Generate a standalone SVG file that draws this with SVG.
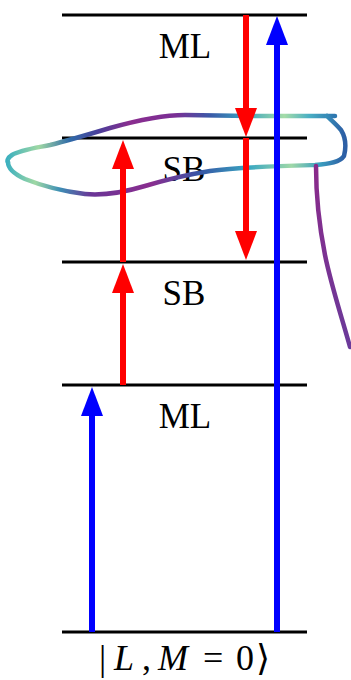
<svg xmlns="http://www.w3.org/2000/svg" width="351" height="680" viewBox="0 0 351 680">
  <style>
    .lvl { stroke: #000; stroke-width: 3; fill: none; }
    .lbl { font-family: "Liberation Serif", "DejaVu Serif", serif; font-size: 35px; fill: #000; text-anchor: middle; }
    .ket { font-family: "Liberation Serif", "DejaVu Serif", serif; font-size: 36px; fill: #000; }
    .it { font-style: italic; }
    .red { stroke: #ff0000; stroke-width: 6; fill: none; }
    .blue { stroke: #0000ff; stroke-width: 6; fill: none; }
    .sq { fill: none; stroke-width: 4.5; stroke-linecap: round; stroke-linejoin: round; }
  </style>
  <defs>
    <marker id="hr" viewBox="0 0 29 22" refX="0" refY="11" markerWidth="29" markerHeight="22" markerUnits="userSpaceOnUse" orient="auto">
      <path d="M0,0 L29,11 L0,22 z" fill="#ff0000"/>
    </marker>
    <marker id="hb" viewBox="0 0 29 22" refX="0" refY="11" markerWidth="29" markerHeight="22" markerUnits="userSpaceOnUse" orient="auto">
      <path d="M0,0 L29,11 L0,22 z" fill="#0000ff"/>
    </marker>
    <linearGradient id="gUp" gradientUnits="userSpaceOnUse" x1="0" y1="0" x2="351" y2="0">
      <stop offset="0.02" stop-color="#3cb0bf"/>
      <stop offset="0.11" stop-color="#9fd8a4"/>
      <stop offset="0.2" stop-color="#2f6aa8"/>
      <stop offset="0.28" stop-color="#4a3f9a"/>
      <stop offset="0.37" stop-color="#8a2d8f"/>
      <stop offset="0.5" stop-color="#7a2f95"/>
      <stop offset="0.6" stop-color="#3a5aa8"/>
      <stop offset="0.7" stop-color="#3aa5c0"/>
      <stop offset="0.81" stop-color="#a5dca8"/>
      <stop offset="0.88" stop-color="#4ab0c4"/>
      <stop offset="0.95" stop-color="#2e78b0"/>
    </linearGradient>
    <linearGradient id="gLo" gradientUnits="userSpaceOnUse" x1="0" y1="0" x2="351" y2="0">
      <stop offset="0.02" stop-color="#3cb0bf"/>
      <stop offset="0.1" stop-color="#9fd8a4"/>
      <stop offset="0.17" stop-color="#3d8fb5"/>
      <stop offset="0.26" stop-color="#6a3596"/>
      <stop offset="0.43" stop-color="#8a2d8f"/>
      <stop offset="0.57" stop-color="#3555a5"/>
      <stop offset="0.71" stop-color="#3aa8c2"/>
      <stop offset="0.83" stop-color="#9fd8a8"/>
      <stop offset="0.91" stop-color="#3aa0c0"/>
      <stop offset="0.98" stop-color="#2d5fa5"/>
    </linearGradient>
    <linearGradient id="gTail" gradientUnits="userSpaceOnUse" x1="0" y1="165" x2="0" y2="350">
      <stop offset="0" stop-color="#8b2a8a"/>
      <stop offset="1" stop-color="#6a3a9a"/>
    </linearGradient>
  </defs>

  <g id="level-ML-top"><line class="lvl" x1="62" y1="15" x2="307" y2="15"/><text class="lbl" x="185" y="58">ML</text></g>
  <g id="level-SB-upper"><line class="lvl" x1="62" y1="138" x2="307" y2="138"/><text class="lbl" x="184" y="181">SB</text></g>
  <g id="level-SB-lower"><line class="lvl" x1="62" y1="262" x2="307" y2="262"/><text class="lbl" x="184" y="305">SB</text></g>
  <g id="level-ML-lower"><line class="lvl" x1="62" y1="385" x2="307" y2="385"/><text class="lbl" x="185" y="428">ML</text></g>
  <g id="level-ground"><line class="lvl" x1="62" y1="632" x2="307" y2="632"/>
    <text class="ket" y="670"><tspan x="99">|</tspan><tspan class="it" x="114">L</tspan><tspan x="142">,</tspan><tspan class="it" x="158">M</tspan><tspan x="203">=</tspan><tspan x="236">0</tspan><tspan x="256">⟩</tspan></text>
  </g>

  <g id="annotation">
    <path class="sq" stroke="url(#gUp)" d="M335,116 L250,116 L185,115 C160,115 135,121 110,128 C90,134 70,140 50,145 C35,148 20,150 12,155 C7,158 7,162 8,162"/>
    <path class="sq" stroke="url(#gLo)" d="M8,162 C8,168 14,174 25,179 C40,185 60,191 85,194 C105,196 125,192 145,186 C165,180 185,175 210,171 C240,167 280,166 315,165 C330,164 340,162 344,156 C346,148 346,138 341,130 C336,124 330,119 327,116"/>
    <path class="sq" stroke="url(#gTail)" d="M316,166 C316,195 319,225 325,255 C331,285 342,318 350,347"/>
  </g>

  <g id="connectors">
    <line class="red" x1="123" y1="385" x2="123" y2="293" marker-end="url(#hr)"/>
    <line class="red" x1="123" y1="262" x2="123" y2="169" marker-end="url(#hr)"/>
    <line class="red" x1="246" y1="15" x2="246" y2="108" marker-end="url(#hr)"/>
    <line class="red" x1="246" y1="138" x2="246" y2="231" marker-end="url(#hr)"/>
    <line class="blue" x1="277" y1="632" x2="277" y2="45" marker-end="url(#hb)"/>
    <line class="blue" x1="92" y1="632" x2="92" y2="416" marker-end="url(#hb)"/>
  </g>
</svg>
